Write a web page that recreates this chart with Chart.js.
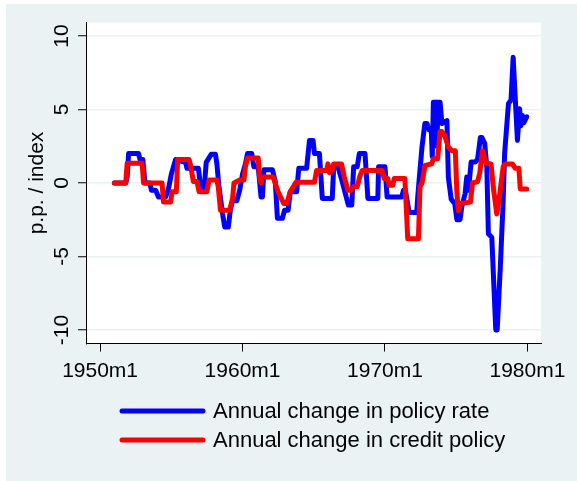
<!DOCTYPE html>
<html>
<head>
<meta charset="utf-8">
<script src="https://cdn.jsdelivr.net/npm/chart.js@4/dist/chart.umd.min.js"></script>
<style>
  html, body { margin: 0; padding: 0; background: #fff; }
  #wrap { width: 577px; height: 481px; }
</style>
</head>
<body>
<div id="wrap"><canvas id="c" width="577" height="481"></canvas></div>
<script>
// Monthly observations, dates as decimal years (1951m1 = 1951.0)
const policyDates = [
  1951.0, 1951.8, 1951.9, 1952.0, 1952.7, 1952.8, 1953.0, 1953.15, 1953.5, 1953.6,
  1953.9, 1954.1, 1954.6, 1954.8, 1955.0, 1955.15, 1955.3, 1955.6, 1956.0, 1956.1,
  1956.9, 1957.0, 1957.1, 1957.3, 1957.45, 1957.8, 1958.1, 1958.2, 1958.35, 1958.6,
  1958.75, 1959.0, 1959.15, 1959.3, 1959.6, 1959.8, 1960.0, 1960.2, 1960.35, 1960.65,
  1960.8, 1961.1, 1961.3, 1961.4, 1961.5, 1962.1, 1962.3, 1962.45, 1962.8, 1962.95,
  1963.2, 1963.35, 1963.8, 1963.95, 1964.5, 1964.7, 1964.95, 1965.05, 1965.4, 1965.6,
  1966.3, 1966.4, 1966.7, 1966.97, 1967.43, 1967.67, 1967.8, 1968.05, 1968.2, 1968.6,
  1968.8, 1969.5, 1969.55, 1970.0, 1970.15, 1971.18, 1971.3, 1971.45, 1971.7, 1972.23,
  1972.3, 1972.4, 1972.6, 1972.8, 1972.95, 1973.1, 1973.25, 1973.32, 1973.4, 1973.6,
  1973.65, 1973.72, 1973.87, 1974.0, 1974.35, 1974.45, 1974.65, 1974.9, 1975.05, 1975.27,
  1975.4, 1975.63, 1975.74, 1975.86, 1976.05, 1976.35, 1976.5, 1976.7, 1976.8, 1977.0,
  1977.15, 1977.26, 1977.5, 1977.78, 1977.88, 1978.1, 1978.3, 1978.4, 1978.67, 1978.85,
  1979.0, 1979.3, 1979.45, 1979.55, 1979.65, 1979.75, 1979.95
];
const policyValues = [
  0, 0, 0.4, 2.0, 2.0, 1.6, 1.6, 0, 0, -0.5,
  -0.5, -0.95, -0.95, -0.4, 0.6, 1.1, 1.6, 1.5, 1.4, 1.0,
  1.0, 0.2, -0.5, -0.5, 1.4, 1.95, 1.95, 1.3, -0.3, -2.1,
  -3.0, -3.0, -1.8, -1.2, -1.2, -0.5, 0.6, 1.3, 2.0, 2.0,
  1.1, 1.1, -0.95, -0.95, 0.9, 0.9, 0.1, -2.4, -2.4, -1.85,
  -1.85, -0.6, -0.6, 1.0, 1.0, 2.9, 2.9, 2.0, 2.0, -1.05,
  -1.05, 1.1, 1.1, 0.2, -1.5, -1.5, 1.1, 1.1, 2.0, 2.0,
  -1.05, -1.05, 1.1, 1.1, -0.95, -0.95, -0.5, -0.6, -2.0, -2.0,
  -0.95, 0.2, 2.45, 4.05, 4.05, 3.6, 3.6, 1.8, 5.5, 5.5,
  2.5, 5.5, 5.5, 4.05, 4.25, 0.4, -1.1, -1.4, -2.5, -2.5,
  -1.6, -0.7, 0.4, -0.5, 1.43, 1.43, 1.6, 3.1, 3.1, 2.7,
  1.1, -3.45, -3.7, -10.0, -10.0, -5.7, -1.2, 2.0, 5.4, 5.65,
  8.55, 2.9, 5.05, 3.9, 4.6, 4.1, 4.5
];

const creditDates = [
  1951.0, 1951.8, 1951.9, 1952.95, 1953.05, 1954.35, 1954.45, 1954.95, 1955.05, 1955.35,
  1955.45, 1956.25, 1956.35, 1956.55, 1956.8, 1956.95, 1957.5, 1957.65, 1958.2, 1958.3,
  1958.45, 1959.1, 1959.3, 1959.4, 1959.8, 1960.1, 1960.2, 1960.35, 1961.1, 1961.2,
  1961.3, 1961.4, 1962.15, 1962.5, 1962.9, 1963.1, 1963.35, 1963.75, 1965.05, 1965.2,
  1965.9, 1966.0, 1966.1, 1966.3, 1966.4, 1966.95, 1967.15, 1967.4, 1967.65, 1967.8,
  1968.05, 1968.25, 1968.4, 1969.8, 1969.95, 1970.2, 1970.3, 1970.55, 1970.65, 1971.4,
  1971.6, 1972.35, 1972.46, 1972.6, 1972.82, 1973.28, 1973.4, 1973.7, 1973.87, 1974.0,
  1974.2, 1974.45, 1974.7, 1974.94, 1975.04, 1975.15, 1975.3, 1976.0, 1976.15, 1976.5,
  1976.65, 1976.85, 1977.1, 1977.45, 1977.6, 1977.85, 1978.0, 1978.3, 1978.45, 1978.95,
  1979.15, 1979.4, 1979.5, 1979.95
];
const creditValues = [
  0, 0, 1.35, 1.35, 0, 0, -1.3, -1.3, -0.6, -0.6,
  1.6, 1.6, 1.2, 0.1, 0.1, -0.6, -0.6, 0.2, 0.2, -0.3,
  -1.85, -1.85, -1.05, 0, 0.2, 0.2, 1.1, 1.7, 1.7, 0.3,
  0, 0.4, 0.4, -0.6, -1.4, -1.4, -0.6, 0.05, 0.05, 0.85,
  0.85, 1.3, 0.7, 0.9, 1.3, 1.3, 0.4, -0.5, -0.5, -0.25,
  -0.25, 0.5, 0.85, 0.85, 0.3, 0.3, -0.15, -0.15, 0.3, 0.3,
  -3.8, -3.8, -0.25, 0.0, 1.2, 1.3, 1.65, 1.65, 3.5, 3.5,
  3.2, 2.45, 2.2, 2.2, -0.5, -1.9, -1.4, -1.3, 0, 0.1,
  0.65, 2.2, 1.35, 1.3, -0.25, -2.1, -1.2, 1.1, 1.3, 1.3,
  1.0, 1.0, -0.4, -0.4
];

const xTickYears = [1950, 1960, 1970, 1980];
const xTickLabels = ['1950m1', '1960m1', '1970m1', '1980m1'];
const yTickValues = [-10, -5, 0, 5, 10];

const seriesNames = ['Annual change in policy rate', 'Annual change in credit policy'];

const FONT = "'Liberation Sans', Arial, Helvetica, sans-serif";
const PANEL = 'rgb(234,242,243)';

function pairs(xs, ys) { return xs.map((x, i) => ({ x: x, y: ys[i] })); }

// Stata-like frame: light panel, white plot region, and a stacked legend
const framePlugin = {
  id: 'frame',
  beforeDraw(chart) {
    const { ctx, chartArea: a } = chart;
    ctx.save();
    ctx.fillStyle = '#fff';
    ctx.fillRect(0, 0, chart.width, chart.height);
    ctx.fillStyle = PANEL;
    ctx.fillRect(6, 4, chart.width - 6, chart.height - 4);
    ctx.fillStyle = '#fff';
    ctx.fillRect(a.left, a.top, a.right - a.left, a.bottom - a.top);
    ctx.restore();
  },
  afterDraw(chart) {
    const ctx = chart.ctx;
    const rows = [411, 440];
    ctx.save();
    ctx.font = '22px ' + FONT;
    ctx.textBaseline = 'middle';
    ctx.textAlign = 'left';
    ctx.lineCap = 'round';
    chart.data.datasets.forEach((ds) => {
      const row = rows[ds.legendRow];
      ctx.strokeStyle = ds.borderColor;
      ctx.lineWidth = 5;
      ctx.beginPath();
      ctx.moveTo(122, row);
      ctx.lineTo(203, row);
      ctx.stroke();
      ctx.fillStyle = '#000';
      ctx.fillText(ds.label, 213, row + 1);
    });
    ctx.restore();
  }
};

new Chart(document.getElementById('c'), {
  type: 'line',
  data: {
    datasets: [
      {
        label: seriesNames[1],
        data: pairs(creditDates, creditValues),
        borderColor: '#ff0000',
        borderWidth: 5,
        pointRadius: 0,
        tension: 0,
        borderCapStyle: 'round',
        borderJoinStyle: 'round',
        order: 0,
        legendRow: 1
      },
      {
        label: seriesNames[0],
        data: pairs(policyDates, policyValues),
        borderColor: '#0000ff',
        borderWidth: 5,
        pointRadius: 0,
        tension: 0,
        borderCapStyle: 'round',
        borderJoinStyle: 'round',
        order: 1,
        legendRow: 0
      }
    ]
  },
  options: {
    responsive: false,
    animation: false,
    events: [],
    layout: { padding: { top: 22.5, right: 36, bottom: 0, left: 0 } },
    plugins: { legend: { display: false }, tooltip: { enabled: false } },
    scales: {
      x: {
        type: 'linear',
        min: 1949.01,
        max: 1980.955,
        afterBuildTicks: (s) => { s.ticks = xTickYears.map((v) => ({ value: v })); },
        afterFit: (s) => { s.height = 137.5; },
        ticks: {
          callback: (v, i) => xTickLabels[i],
          maxRotation: 0,
          minRotation: 0,
          autoSkip: false,
          padding: 7,
          color: '#000',
          font: { family: FONT, size: 21 }
        },
        grid: {
          drawOnChartArea: false,
          drawTicks: true,
          tickLength: 8,
          tickColor: '#000',
          tickWidth: 1
        },
        border: { display: true, color: '#000', width: 1 }
      },
      y: {
        type: 'linear',
        min: -10.92,
        max: 10.92,
        afterBuildTicks: (s) => { s.ticks = yTickValues.map((v) => ({ value: v })); },
        afterFit: (s) => { s.width = 86; },
        ticks: {
          minRotation: 90,
          maxRotation: 90,
          crossAlign: 'center',
          padding: 1,
          color: '#000',
          font: { family: FONT, size: 21 }
        },
        grid: {
          color: PANEL,
          lineWidth: 1.5,
          drawTicks: true,
          tickLength: 8,
          tickColor: '#000',
          tickWidth: 1
        },
        border: { display: true, color: '#000', width: 1 },
        title: {
          display: true,
          text: 'p.p. / index',
          color: '#000',
          font: { family: FONT, size: 21 },
          padding: { top: 25, bottom: 0 }
        }
      }
    }
  },
  plugins: [framePlugin]
});
</script>
</body>
</html>
